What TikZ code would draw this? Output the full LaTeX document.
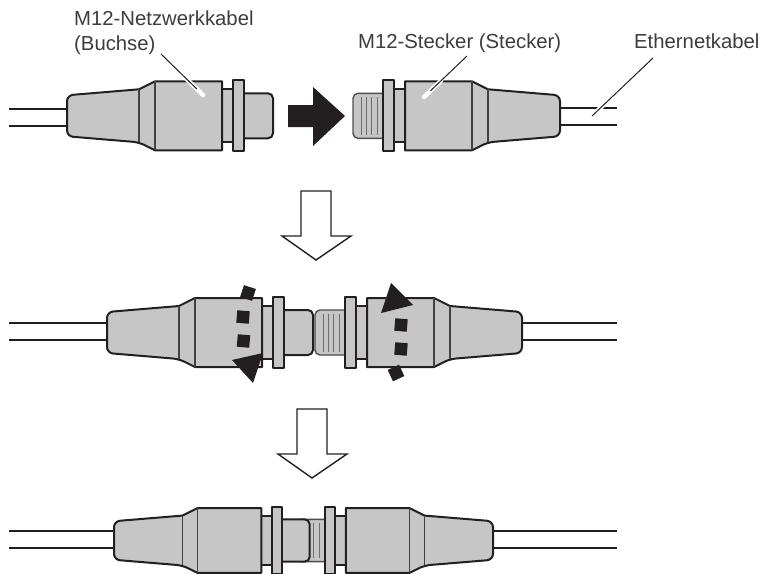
\documentclass[tikz,border=0pt]{standalone}
\usepackage{fontspec}
\setmainfont{Liberation Sans}
\usepackage{xcolor}
\usetikzlibrary{calc}
\definecolor{linie}{HTML}{231F20}
\definecolor{gehaeuse}{HTML}{C6C6C6}
\definecolor{rille}{HTML}{6E6E6E}
\definecolor{schrift}{HTML}{3C3C3C}
\tikzset{
  aussen/.style={draw=linie,line width=2pt,line join=round,fill=gehaeuse},
  innen/.style={draw=linie!85!white,line width=1.2pt},
  kabel/.style={draw=linie,line width=1.8pt},
  beschriftung/.style={font=\fontsize{20.3}{25}\selectfont,text=schrift,inner sep=0pt,align=left},
  zeiger/.style={draw=linie,line width=1pt},
  halo/.style={draw=white,line width=4.5pt,line cap=round},
  hohlpfeil/.style={draw=linie,line width=1.4pt,fill=white,line join=miter},
  marke/.style={fill=linie,minimum size=12.5pt,inner sep=0pt},
  kupplung/.pic={
    \fill[gehaeuse] (150,-26.5) rectangle (170,26.5);
    \draw[aussen,fill=none] (155,-26.5) -- (166,-26.5) (155,26.5) -- (166,26.5);
    \draw[aussen] (166,-35.5) rectangle (177,35.5);
    \draw[aussen] (88,-34.5) -- (72,-26.5) [rounded corners=6pt] -- (0,-20.5) -- (0,20.5) -- (72,26.5)
      [sharp corners] -- (88,34.5) -- (155,34.5) -- (155,-34.5) -- cycle;
    \draw[innen] (72,-26.5) -- (72,26.5);
    \draw[innen] (88,-34.5) -- (88,34.5);
  },
  buchse/.pic={
    \draw[aussen,rounded corners=5pt] (170,-22.5) -- (206,-22.5) -- (206,22.5) -- (170,22.5);
    \pic[transform shape] {kupplung};
  },
  stecker/.pic={
    \draw[aussen,draw=linie!80!white,line width=1.4pt,rounded corners=5pt] (170,-22.5) -- (207,-22.5) -- (207,22.5) -- (170,22.5);
    \foreach \x in {183,188.5,194,199}
      \draw[rille,line width=1pt] (\x,-19) -- (\x,19);
    \pic[transform shape] {kupplung};
  },
}
\begin{document}
\begin{tikzpicture}[x=1pt,y=-1pt]
\useasboundingbox (0,0) rectangle (763,573);
\clip (0,0) rectangle (763,573);

% cables
\foreach \ya/\yb/\xa/\xb in {109/126/9/67,323/340/9/107,531/548/9/114}
  \draw[kabel] (\xa,\ya) -- (\xb,\ya) (\xa,\yb) -- (\xb,\yb);
\foreach \ya/\yb/\xa/\xb in {108/125/560/617,323/340/522/617,531/548/493/617}
  \draw[kabel] (\xa,\ya) -- (\xb,\ya) (\xa,\yb) -- (\xb,\yb);

% connectors
\pic at (67,115.8) {buchse};
\pic[xscale=-1] at (560,115.8) {stecker};
\pic at (107,332.5) {buchse};
\pic[xscale=-1] at (522,332.5) {stecker};
\pic[xscale=-.95,yscale=.94] at (493,540.5) {stecker};
\pic[xscale=.95,yscale=.94] at (114,540.5) {buchse};

% block arrows
\fill[linie] (288,105) -- (313,105) -- (313,87) -- (345,116) -- (313,146) -- (313,127) -- (288,127) -- cycle;
\draw[hohlpfeil] (301,191) -- (331,191) -- (331,236) -- (351,236) -- (316,260) -- (282,236) -- (301,236) -- cycle;
\draw[hohlpfeil] (297,409) -- (327,409) -- (327,454) -- (347,454) -- (312,478) -- (278,454) -- (297,454) -- cycle;

% turning marks
\node[marke,rotate=-18] (markeA) at (248,293) {};
\node[marke,rotate=-5] (markeB) at (243,317) {};
\node[marke,rotate=-5] (markeC) at (243.5,341) {};
\fill[linie] (232,360) -- (263,353) -- (253,383) -- cycle;
\fill[linie] (391,283) -- (413,305) -- (381,313) -- cycle;
\node[marke,rotate=-5] (markeD) at (401,325) {};
\node[marke,rotate=-5] (markeE) at (401,349) {};
\node[marke,rotate=25] (markeF) at (396,373) {};

% labels
\node[beschriftung,anchor=north west] (buchsetext) at (74,10.5) {M12-Netzwerkkabel\\(Buchse)};
\node[beschriftung,anchor=base west] (steckertext) at (358,48) {M12-Stecker (Stecker)};
\node[beschriftung,anchor=base west] (kabeltext) at (634,48) {Ethernetkabel};

% leaders
\coordinate (buchseoben) at (161,54);
\coordinate (buchseunten) at (203,95);
\coordinate (steckeroben) at (467,56);
\coordinate (steckerunten) at (424,97);
\coordinate (kabeloben) at (653,58);
\coordinate (kabelunten) at (592,116);
\draw[halo] ($(buchseoben)!.6!(buchseunten)$) -- (buchseunten);
\draw[zeiger] (buchseoben) -- ($(buchseoben)!.85!(buchseunten)$);
\draw[halo] ($(steckeroben)!.6!(steckerunten)$) -- (steckerunten);
\draw[zeiger] (steckeroben) -- ($(steckeroben)!.85!(steckerunten)$);
\draw[halo] ($(kabeloben)!.74!(kabelunten)$) -- ($(kabeloben)!.9!(kabelunten)$);
\draw[zeiger] (kabeloben) -- (kabelunten);

\end{tikzpicture}
\end{document}
